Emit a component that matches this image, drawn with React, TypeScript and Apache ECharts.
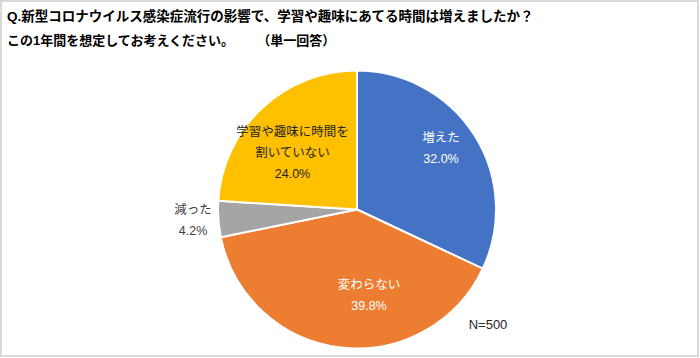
import React, { useEffect, useRef } from "react";
import * as echarts from "echarts";

const categories = ["増えた", "変わらない", "減った", "学習や趣味に時間を割いていない"];
const shares = [32.0, 39.8, 4.2, 24.0];
const sliceColors = ["#4472C4", "#ED7D31", "#A5A5A5", "#FFC000"];
const labelColors = ["#FFFFFF", "#FFFFFF", "#404040", "#262626"];
const titleLine1 = "Q.新型コロナウイルス感染症流行の影響で、学習や趣味にあてる時間は増えましたか？";
const titleLine2 = "この1年間を想定してお考えください。\u3000\u3000 （単一回答）";
const sampleNote = "N=500";

const labelPositions: [number, number][] = [
  [441, 148],
  [369, 295],
  [193, 220.5],
  [292.5, 152.5],
];

const FONT = "Arial, 'Liberation Sans', 'Noto Sans CJK JP', sans-serif";

function wrapName(name: string): string {
  return name.length > 9 ? name.slice(0, 9) + "\n" + name.slice(9) : name;
}

export default function App() {
  const ref = useRef<HTMLDivElement>(null);
  useEffect(() => {
    if (!ref.current) return;
    const chart = echarts.init(ref.current, null, { renderer: "svg" });
    chart.setOption({
      animation: false,
      backgroundColor: "#ffffff",
      title: [
        {
          text: titleLine1,
          left: 7,
          top: 10,
          padding: 0,
          textStyle: { fontSize: 13.5, fontWeight: "bold", color: "#000", fontFamily: FONT },
        },
        {
          text: titleLine2,
          left: 7,
          top: 34,
          padding: 0,
          textStyle: { fontSize: 13, fontWeight: "bold", color: "#000", fontFamily: FONT },
        },
      ],
      graphic: [
        {
          type: "rect",
          shape: { x: 1, y: 1, width: 697, height: 355 },
          style: { fill: "none", stroke: "#d9d9d9", lineWidth: 2 },
          silent: true,
        },
        {
          type: "text",
          x: 488,
          y: 324,
          style: {
            text: sampleNote,
            fontSize: 13,
            fill: "#262626",
            fontFamily: FONT,
            textAlign: "center",
            textVerticalAlign: "middle",
          },
        },
      ],
      series: [
        {
          type: "pie",
          center: [357, 209.5],
          radius: [0, 139],
          startAngle: 90,
          clockwise: true,
          avoidLabelOverlap: false,
          itemStyle: { borderColor: "#ffffff", borderWidth: 2 },
          label: {
            show: true,
            position: "inside",
            fontSize: 12.5,
            lineHeight: 21,
            fontFamily: FONT,
            align: "center",
            verticalAlign: "middle",
            formatter: (p: any) => `${wrapName(p.name)}\n${Number(p.value).toFixed(1)}%`,
          },
          labelLine: { show: false },
          labelLayout: (params: any) => {
            const pos = labelPositions[params.dataIndex];
            return { x: pos[0], y: pos[1], align: "center", verticalAlign: "middle" };
          },
          data: categories.map((name, i) => ({
            name,
            value: shares[i],
            itemStyle: { color: sliceColors[i] },
            label: { color: labelColors[i] },
          })),
        },
      ],
    });
    return () => chart.dispose();
  }, []);
  return (
    <div
      ref={ref}
      style={{ position: "absolute", left: 0, top: 0, width: 700, height: 358 }}
    />
  );
}
